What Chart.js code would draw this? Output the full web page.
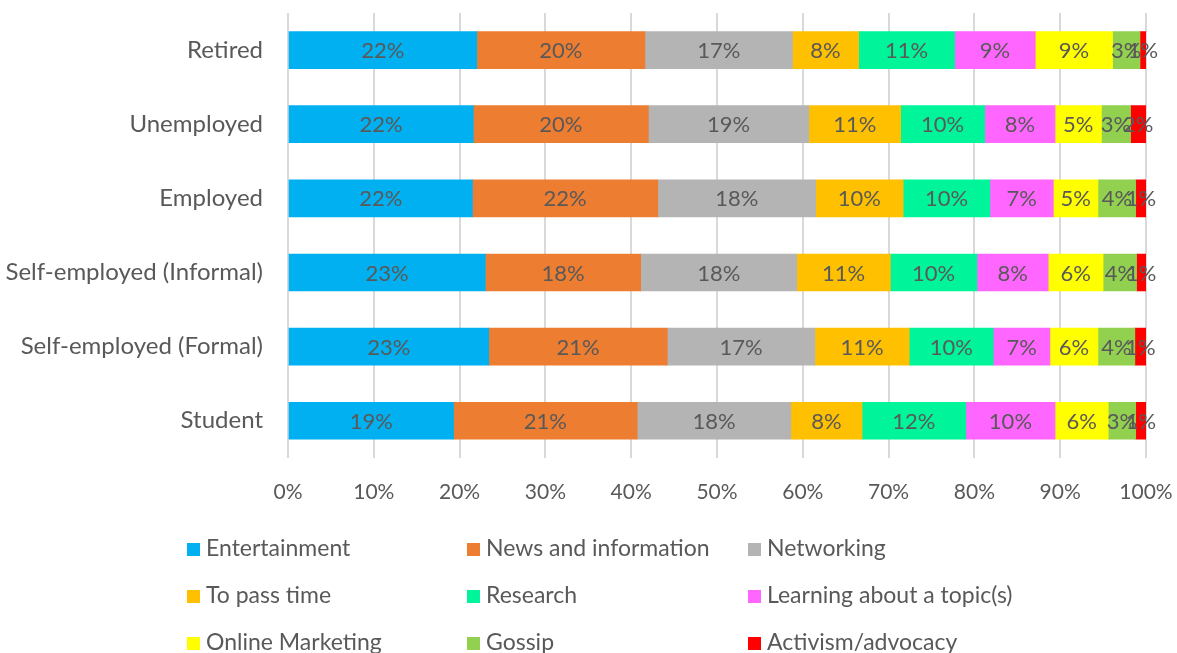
<!DOCTYPE html>
<html>
<head>
<meta charset="utf-8">
<script src="https://cdn.jsdelivr.net/npm/chart.js@4.4.0/dist/chart.umd.min.js"></script>
<style>
  html, body { margin: 0; padding: 0; background: #fff; }
  #wrap { position: relative; width: 1177px; height: 653px; overflow: hidden; }
  #box { position: absolute; left: 0; top: 0; width: 1177px; height: 531px; }
  #legend { position: absolute; left: 0; top: 0; width: 1177px; height: 653px; pointer-events: none; }
  .item { position: absolute; font-family: Lato, "Liberation Sans", sans-serif; font-size: 23px; color: #595959; white-space: nowrap; line-height: 26px; }
  .item span { display: inline-block; width: 13px; height: 13px; margin-right: 6px; vertical-align: 0px; }
</style>
</head>
<body>
<div id="wrap">
  <div id="box"><canvas id="chart"></canvas></div>
  <div id="legend"></div>
</div>
<script>
// 카테고리 (위에서 아래로)
const categories = ["Retired", "Unemployed", "Employed", "Self-employed (Informal)", "Self-employed (Formal)", "Student"];

// 시리즈 이름, 색상
const seriesNames = ["Entertainment", "News and information", "Networking", "To pass time", "Research",
  "Learning about a topic(s)", "Online Marketing", "Gossip", "Activism/advocacy"];
const seriesColors = ["#00B0F0", "#ED7D31", "#B4B4B4", "#FFC000", "#00F59B", "#FF66FF", "#FFFF00", "#92D050", "#FF0000"];

// 값 (%), 카테고리 순서대로
const entertainment = [22.0, 21.6, 21.5, 23.0, 23.4, 19.3];
const news = [19.6, 20.4, 21.6, 18.1, 20.8, 21.4];
const networking = [17.2, 18.7, 18.4, 18.2, 17.2, 17.9];
const passTime = [7.7, 10.7, 10.2, 10.9, 11.0, 8.3];
const research = [11.2, 9.8, 10.1, 10.1, 9.8, 12.1];
const learning = [9.4, 8.2, 7.4, 8.3, 6.6, 10.4];
const marketing = [9.0, 5.4, 5.2, 6.4, 5.6, 6.2];
const gossip = [3.2, 3.4, 4.4, 3.9, 4.3, 3.2];
const activism = [0.7, 1.8, 1.2, 1.1, 1.3, 1.2];

const seriesValues = [entertainment, news, networking, passTime, research, learning, marketing, gossip, activism];

// x축 눈금
const xTicks = [0, 10, 20, 30, 40, 50, 60, 70, 80, 90, 100];

const FONT = "Lato, 'Liberation Sans', sans-serif";
const TEXT = "#595959";

// 막대 위 라벨
const barLabels = {
  id: "barLabels",
  afterDatasetsDraw(chart) {
    const ctx = chart.ctx;
    ctx.save();
    ctx.font = "22px " + FONT;
    ctx.fillStyle = TEXT;
    ctx.textAlign = "center";
    ctx.textBaseline = "middle";
    chart.data.datasets.forEach((ds, i) => {
      chart.getDatasetMeta(i).data.forEach((bar, j) => {
        const p = bar.getCenterPoint();
        ctx.fillText(Math.round(ds.data[j]) + "%", p.x, p.y + 1);
      });
    });
    ctx.restore();
  }
};

const data = {
  labels: categories,
  datasets: seriesNames.map((name, i) => ({
    label: name,
    data: seriesValues[i],
    backgroundColor: seriesColors[i],
    borderWidth: 0,
    barThickness: 37,
  })),
};

const config = {
  type: "bar",
  data: data,
  options: {
    indexAxis: "y",
    responsive: true,
    maintainAspectRatio: false,
    animation: false,
    layout: { padding: { top: 13, right: 0, left: 0, bottom: 4 } },
    scales: {
      x: {
        stacked: true,
        min: 0,
        max: 100,
        afterBuildTicks: (axis) => { axis.ticks = xTicks.map(v => ({ value: v })); },
        afterFit: (s) => { s.paddingLeft = 0; s.paddingRight = 31; },
        ticks: {
          callback: (v) => v + "%",
          font: { size: 21, family: FONT },
          color: TEXT,
          padding: 22,
          maxRotation: 0,
        },
        grid: { color: "#D9D9D9", lineWidth: 2, drawTicks: false },
        border: { display: false },
      },
      y: {
        stacked: true,
        afterFit: (s) => { s.width = 288; s.paddingTop = 0; s.paddingBottom = 0; },
        ticks: {
          font: { size: 24, family: FONT },
          color: TEXT,
          padding: 25,
        },
        grid: { display: false, drawTicks: false },
        border: { display: false },
      },
    },
    plugins: {
      legend: { display: false },
      tooltip: { enabled: false },
    },
  },
  plugins: [barLabels],
};

new Chart(document.getElementById("chart").getContext("2d"), config);

// 범례 (3열)
const legendCols = [187, 467, 748];
const legendRows = [547, 594, 641];
const legend = document.getElementById("legend");
seriesNames.forEach((name, i) => {
  const el = document.createElement("div");
  el.className = "item";
  el.style.left = legendCols[i % 3] + "px";
  el.style.top = (legendRows[Math.floor(i / 3)] - 13) + "px";
  el.innerHTML = '<span style="background:' + seriesColors[i] + '"></span>' + name;
  legend.appendChild(el);
});
</script>
</body>
</html>
